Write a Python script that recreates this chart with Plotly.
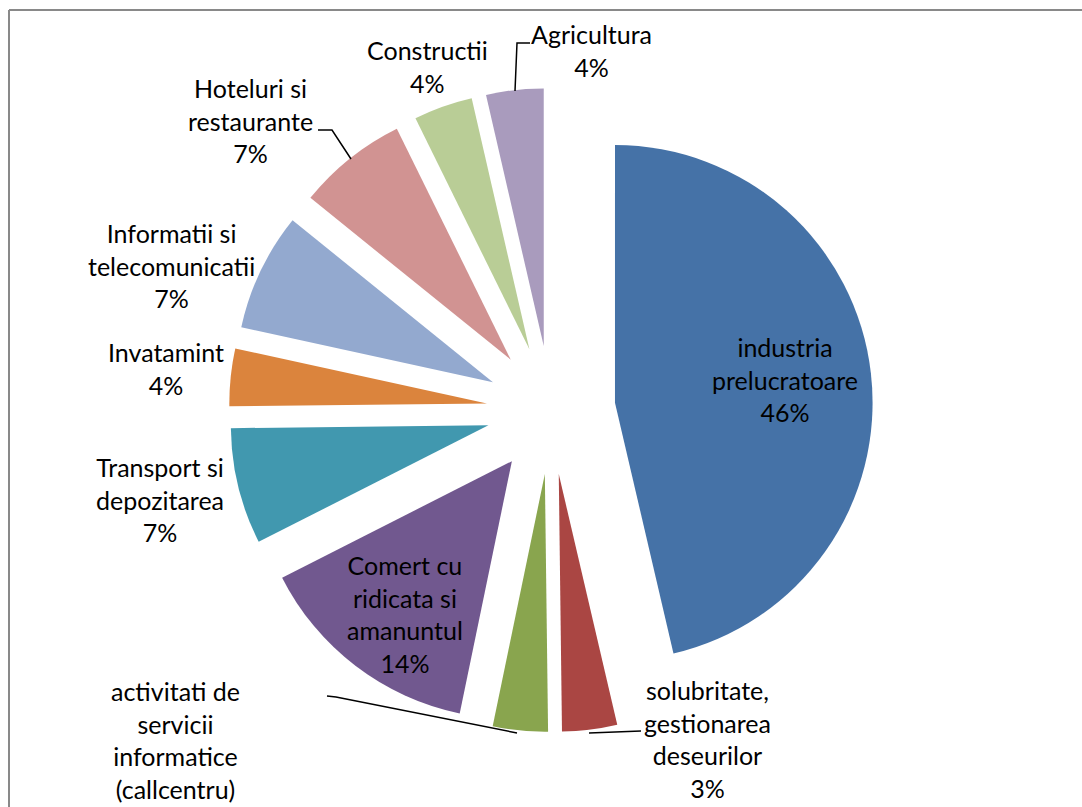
import plotly.graph_objects as go

W, H = 1082, 807

# Sector shares (%), clockwise from 12 o'clock
sectors = [
    "industria<br>prelucratoare",
    "solubritate,<br>gestionarea<br>deseurilor",
    "activitati de<br>servicii<br>informatice<br>(callcentru)",
    "Comert cu<br>ridicata si<br>amanuntul",
    "Transport si<br>depozitarea",
    "Invatamint",
    "Informatii si<br>telecomunicatii",
    "Hoteluri si<br>restaurante",
    "Constructii",
    "Agricultura",
]
shares = [46.4, 3.45, 3.45, 14.3, 7.3, 3.6, 7.4, 6.9, 3.7, 3.6]
show_pct = [True, True, False, True, True, True, True, True, True, True]
colors = ["#4572A7", "#AA4643", "#89A54E", "#71588F", "#4198AF",
          "#DB843D", "#93A9CF", "#D19392", "#B9CD96", "#A99BBD"]

# Label anchor points (pixel centre of each text block)
label_pos = [
    (785, 379), (707, 739), (175, 740), (405, 614), (160, 500),
    (166, 368), (171, 265), (250, 121), (427, 67), (591, 51),
]

# Leader lines for the outside labels (pixel polylines)
leaders = [
    [(530, 43), (517, 43), (515, 91)],
    [(318, 130), (332, 130), (351, 159)],
    [(327, 696), (336, 697), (517, 733)],
    [(589, 733), (641, 731)],
]


def px(x):
    return x / W


def py(y):
    return 1 - y / H


total = sum(shares)
cx, cy, half = 551, 410, 322
fig = go.Figure(go.Pie(
    labels=[s.replace("<br>", " ") for s in sectors],
    values=shares,
    marker=dict(colors=colors, line=dict(width=0)),
    pull=[0.25] * len(shares),
    sort=False,
    direction="clockwise",
    rotation=0,
    textinfo="none",
    hoverinfo="label+percent",
    showlegend=False,
    domain=dict(x=[px(cx - half), px(cx + half)],
                y=[py(cy + half), py(cy - half)]),
))

annotations = []
for name, v, shown, (x, y) in zip(sectors, shares, show_pct, label_pos):
    text = f"{name}<br>{round(100 * v / total)}%" if shown else name
    annotations.append(dict(
        x=px(x), y=py(y), xref="paper", yref="paper",
        text=text, showarrow=False,
        xanchor="center", yanchor="middle", align="center",
        font=dict(family="Lato, Calibri, sans-serif", size=25, color="#000000"),
    ))

shapes = []
for pts in leaders:
    path = "M " + " L ".join(f"{px(x)},{py(y)}" for x, y in pts)
    shapes.append(dict(type="path", path=path, xref="paper", yref="paper",
                       line=dict(color="#000000", width=1.5)))

# chart frame (left and top edges visible)
shapes.append(dict(type="line", xref="paper", yref="paper",
                   x0=px(9), y0=py(10), x1=px(9), y1=py(H + 5),
                   line=dict(color="#898989", width=2)))
shapes.append(dict(type="line", xref="paper", yref="paper",
                   x0=px(9), y0=py(10), x1=px(W + 5), y1=py(10),
                   line=dict(color="#898989", width=2)))

fig.update_layout(
    width=W, height=H,
    margin=dict(l=0, r=0, t=0, b=0),
    paper_bgcolor="#FFFFFF",
    plot_bgcolor="#FFFFFF",
    annotations=annotations,
    shapes=shapes,
)

fig.write_html("out.html")
